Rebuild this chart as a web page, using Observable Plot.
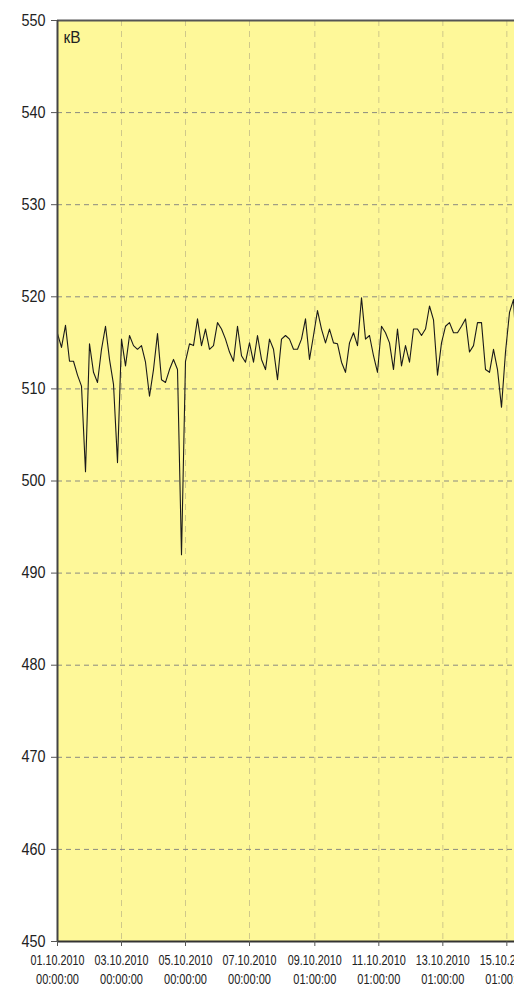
<!DOCTYPE html>
<html><head><meta charset="utf-8">
<script src="https://cdn.jsdelivr.net/npm/d3@7"></script>
<script src="https://cdn.jsdelivr.net/npm/@observablehq/plot@0.6"></script>
<style>
html,body{margin:0;padding:0;background:#fff;overflow:hidden;}
</style></head><body><div id="chart"></div>
<script>
// Series: voltage, kV, sampled every 3 hours from 01.10.2010 00:00
const startTime = "2010-10-01T00:00:00Z";
const stepHours = 3;
const values = [
  516, 514.5, 516.9, 513, 513, 511.5, 510.3, 501, 514.9, 511.8,
  510.7, 514.3, 516.8, 513.2, 510.5, 502, 515.4, 512.5, 515.8, 514.7,
  514.3, 514.7, 512.9, 509.2, 512.1, 516, 511, 510.7, 512.1, 513.2,
  512.1, 492, 513, 514.9, 514.7, 517.6, 514.7, 516.5, 514.3, 514.7,
  517.2, 516.5, 515.4, 514, 513, 516.8, 513.6, 512.9, 515, 512.9,
  515.8, 513.2, 512.1, 515.4, 514.3, 511, 515.4, 515.8, 515.4, 514.3,
  514.3, 515.4, 517.6, 513.2, 515.8, 518.5, 516.5, 515, 516.5, 515,
  514.9, 512.9, 511.8, 515, 516.1, 514.7, 519.9, 515.4, 515.8, 513.6,
  511.8, 516.8, 516.1, 515, 512.1, 516.5, 512.5, 514.7, 512.9, 516.5,
  516.5, 515.8, 516.5, 519, 517.5, 511.5, 515, 516.8, 517.2, 516.1,
  516.1, 516.8, 517.6, 514, 514.7, 517.2, 517.2, 512.1, 511.8, 514.3,
  512.1, 508, 514, 518.3, 519.7, 512
];
const endTime = "2010-10-15T06:45:00Z";
const yTicks = [450, 460, 470, 480, 490, 500, 510, 520, 530, 540, 550];
const xTickTimes = [
  "2010-10-01T00:00:00Z", "2010-10-03T00:00:00Z", "2010-10-05T00:00:00Z", "2010-10-07T00:00:00Z",
  "2010-10-09T01:00:00Z", "2010-10-11T01:00:00Z", "2010-10-13T01:00:00Z", "2010-10-15T01:00:00Z"
];
const xTickDates = ["01.10.2010", "03.10.2010", "05.10.2010", "07.10.2010",
  "09.10.2010", "11.10.2010", "13.10.2010", "15.10.2010"];
const xTickClock = ["00:00:00", "00:00:00", "00:00:00", "00:00:00",
  "01:00:00", "01:00:00", "01:00:00", "01:00:00"];
const unitLabel = "кВ";

const t0 = Date.parse(startTime);
const data = values.map((v, i) => ({t: new Date(t0 + i * stepHours * 3600e3), v}));
const xTicks = xTickTimes.map(s => new Date(s));
const dateByTime = new Map(xTicks.map((d, i) => [+d, xTickDates[i]]));
const clockByTime = new Map(xTicks.map((d, i) => [+d, xTickClock[i]]));
const font = "'Liberation Sans', Arial, sans-serif";

const chart = Plot.plot({
  width: 514, height: 995,
  marginLeft: 57, marginRight: 0, marginTop: 20, marginBottom: 54,
  style: {background: "white", fontFamily: font, color: "#222"},
  x: {type: "utc", domain: [new Date(startTime), new Date(endTime)], label: null},
  y: {domain: [450, 550], label: null},
  marks: [
    Plot.frame({fill: "#FEF899", stroke: null}),
    Plot.gridX(xTicks, {stroke: "#cfc88a", strokeOpacity: 1, strokeDasharray: "6,5"}),
    Plot.gridY(yTicks, {stroke: "#8a8a80", strokeOpacity: 1, strokeDasharray: "5,4"}),
    Plot.line(data, {x: "t", y: "v", stroke: "#1a1a1a", strokeWidth: 1.1, clip: true}),
    Plot.ruleY([550], {stroke: "#555", strokeWidth: 2}),
    Plot.ruleY([450], {stroke: "#333", strokeWidth: 2}),
    Plot.ruleX([new Date(startTime)], {stroke: "#444", strokeWidth: 2}),
    Plot.axisY(yTicks, {tickSize: 6, tickPadding: 6, fontSize: 16, stroke: "#555", fill: "#222", label: null}),
    Plot.axisX(xTicks, {tickSize: 5, tickPadding: 9, fontSize: 14, stroke: "#555", fill: "#222",
      label: null, tickFormat: d => dateByTime.get(+d)}),
    Plot.axisX(xTicks, {tickSize: 0, tickPadding: 33, fontSize: 14, fill: "#222",
      label: null, tickFormat: d => clockByTime.get(+d)}),
    Plot.text([unitLabel], {frameAnchor: "top-left", dx: 6, dy: 11, fontSize: 16, fill: "#222", text: d => d})
  ]
});
// condense glyphs horizontally like the narrow font of the original
const condense = (t, len) => { t.setAttribute("textLength", len); t.setAttribute("lengthAdjust", "spacingAndGlyphs"); };
chart.querySelectorAll('g[aria-label="x-axis tick label"] text').forEach(t => {
  condense(t, t.textContent.length === 10 ? 54 : 43);
});
chart.querySelectorAll('g[aria-label="y-axis tick label"] text').forEach(t => condense(t, 24));
chart.querySelectorAll('g[aria-label="text"] text').forEach(t => condense(t, 17));
document.getElementById("chart").appendChild(chart);
</script>
</body></html>
